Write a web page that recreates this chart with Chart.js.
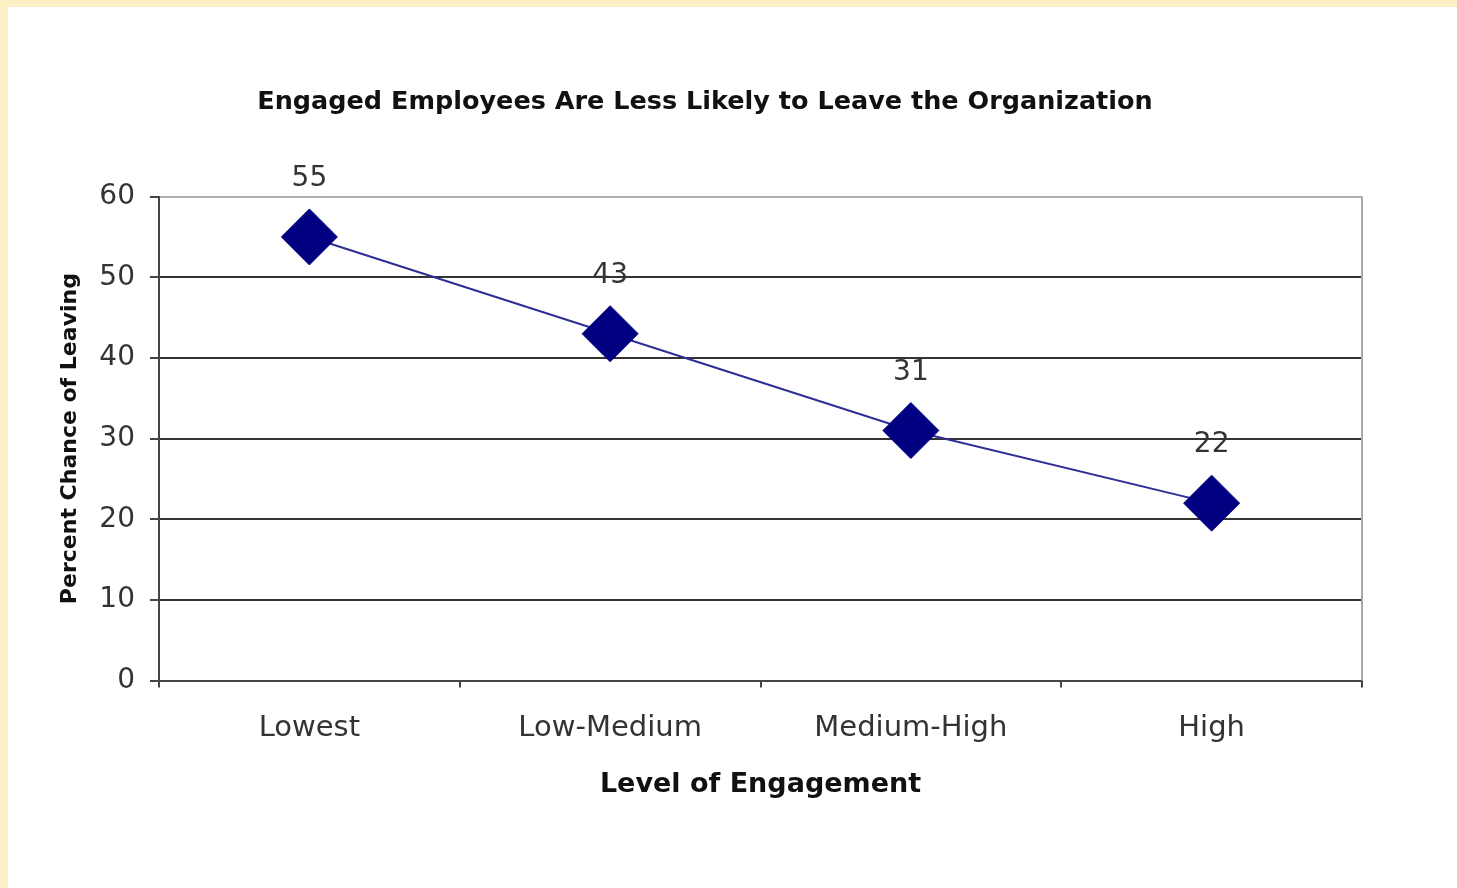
<!DOCTYPE html>
<html lang="en">
<head>
  <meta charset="UTF-8">
  <title>Engaged Employees</title>
  <script src="https://cdn.jsdelivr.net/npm/chart.js"></script>
  <style>
    body {
      margin: 0;
      background-color: #fbefc6;
      width: 1457px;
      height: 888px;
      overflow: hidden;
    }

    #chartWrapper {
      position: absolute;
      left: 8px;
      top: 7px;
      width: 1449px;
      height: 881px;
      background: #fff;
    }
  </style>
</head>
<body>
  <div id="chartWrapper">
    <canvas id="engagementChart" width="1449" height="881"></canvas>
  </div>

  <script>
    const levels = ["Lowest", "Low-Medium", "Medium-High", "High"];
    const chanceOfLeaving = [55, 43, 31, 22];
    const yTicks = [0, 10, 20, 30, 40, 50, 60];

    // value labels above each diamond
    const valueLabels = {
      id: "valueLabels",
      afterDatasetsDraw(chart) {
        const ctx = chart.ctx;
        const meta = chart.getDatasetMeta(0);
        ctx.save();
        ctx.font = "28px 'DejaVu Sans'";
        ctx.fillStyle = "#333";
        ctx.textAlign = "center";
        ctx.textBaseline = "middle";
        meta.data.forEach((pt, i) => {
          ctx.fillText(String(chanceOfLeaving[i]), pt.x, pt.y - 58);
        });
        ctx.restore();
      }
    };

    // light grey right edge of the plot area
    const plotBorder = {
      id: "plotBorder",
      beforeDatasetsDraw(chart) {
        const { ctx, chartArea } = chart;
        ctx.save();
        ctx.strokeStyle = "#a8a8a8";
        ctx.lineWidth = 2;
        ctx.beginPath();
        ctx.moveTo(chartArea.right, chartArea.top);
        ctx.lineTo(chartArea.right, chartArea.bottom);
        ctx.stroke();
        ctx.restore();
      }
    };

    const ctx = document.getElementById("engagementChart").getContext("2d");
    new Chart(ctx, {
      type: "line",
      data: {
        labels: levels,
        datasets: [{
          data: chanceOfLeaving,
          borderColor: "#2e2e96",
          borderWidth: 2,
          pointStyle: "rectRot",
          pointRadius: 28,
          pointHoverRadius: 28,
          pointBackgroundColor: "#000080",
          pointBorderColor: "#000080",
          pointBorderWidth: 1,
          tension: 0
        }]
      },
      options: {
        responsive: false,
        animation: false,
        events: [],
        layout: {
          padding: { left: 40, right: 95, top: 0, bottom: 83 }
        },
        plugins: {
          legend: { display: false },
          tooltip: { enabled: false },
          title: {
            display: true,
            text: "Engaged Employees Are Less Likely to Leave the Organization",
            color: "#111",
            font: { family: "'DejaVu Sans'", size: 25.5, weight: "bold" },
            padding: { top: 80, bottom: 79 }
          }
        },
        scales: {
          x: {
            offset: true,
            grid: {
              offset: true,
              drawOnChartArea: false,
              drawTicks: true,
              tickLength: 7,
              color: "#444",
              lineWidth: 2
            },
            border: { display: true, color: "#444", width: 2 },
            ticks: {
              color: "#333",
              padding: 26,
              font: { family: "'DejaVu Sans'", size: 29, lineHeight: 1.0 }
            },
            title: {
              display: true,
              text: "Level of Engagement",
              color: "#111",
              font: { family: "'DejaVu Sans'", size: 27, weight: "bold" },
              padding: { top: 0, bottom: 4 }
            }
          },
          y: {
            min: 0,
            max: 60,
            afterFit(scale) { scale.width = 111; },
            afterBuildTicks(scale) {
              scale.ticks = yTicks.map(v => ({ value: v }));
            },
            grid: {
              color: c => (c.tick && c.tick.value === 60 ? "#b0b0b0" : "#333"),
              tickColor: "#444",
              lineWidth: 2,
              tickLength: 9
            },
            border: { display: true, color: "#444", width: 2 },
            ticks: {
              color: "#333",
              padding: 15,
              font: { family: "'DejaVu Sans'", size: 28 }
            },
            title: {
              display: true,
              text: "Percent Chance of Leaving",
              color: "#111",
              font: { family: "'DejaVu Sans'", size: 22, weight: "bold" },
              padding: { top: 9, bottom: 0 }
            }
          }
        }
      },
      plugins: [valueLabels, plotBorder]
    });
  </script>
</body>
</html>
